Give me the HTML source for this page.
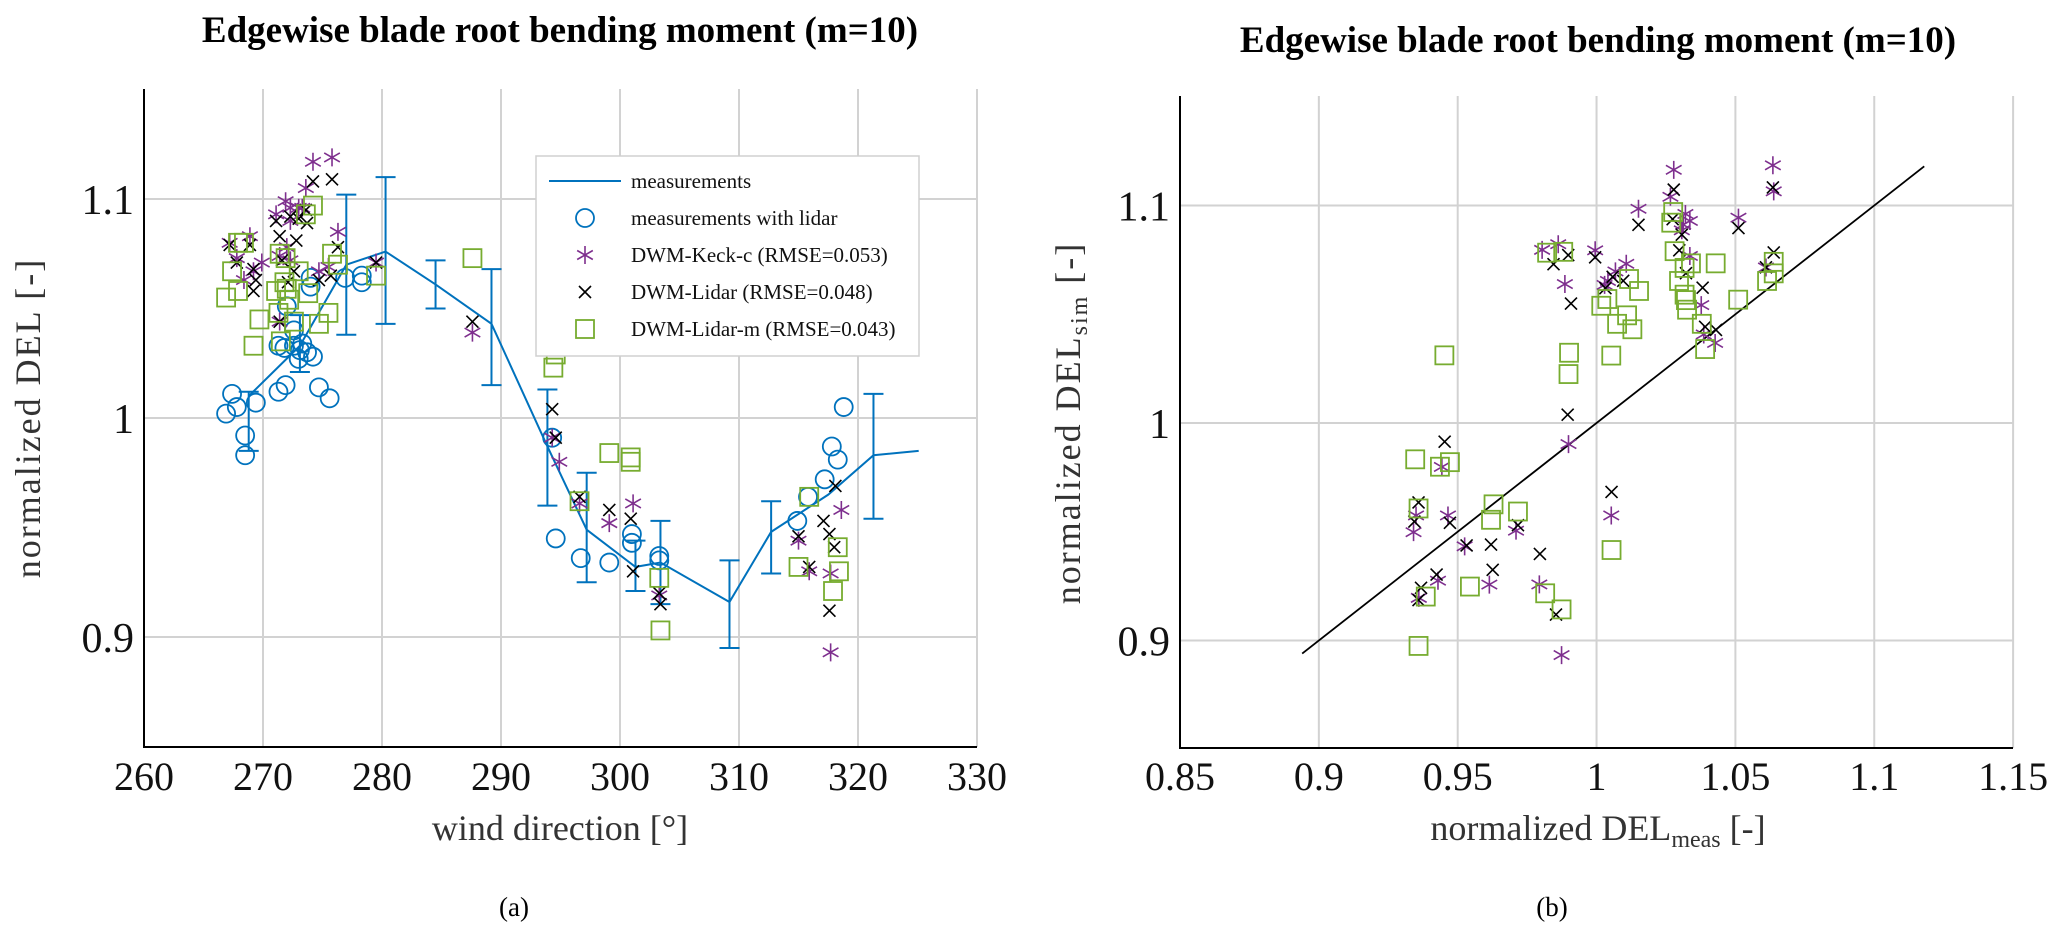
<!DOCTYPE html>
<html><head><meta charset="utf-8"><style>
html,body{margin:0;padding:0;background:#fff;}
svg{display:block;font-family:"Liberation Serif",serif;}
</style></head><body>
<svg id="fig" width="2067" height="942" viewBox="0 0 2067 942" xmlns="http://www.w3.org/2000/svg">
<g id="gL"></g>
<g id="gR"></g>
<text x="560" y="42" text-anchor="middle" font-size="37" font-weight="bold">Edgewise blade root bending moment (m=10)</text>
<text x="1598" y="52" text-anchor="middle" font-size="37" font-weight="bold">Edgewise blade root bending moment (m=10)</text>
<text x="560" y="840" text-anchor="middle" font-size="36" fill="#333">wind direction [°]</text>
<text x="1598" y="840" text-anchor="middle" font-size="36" fill="#333">normalized DEL<tspan font-size="24" dy="7">meas</tspan><tspan dy="-7"> [-]</tspan></text>
<text transform="translate(40,418) rotate(-90)" text-anchor="middle" font-size="36" fill="#333" letter-spacing="2">normalized DEL [-]</text>
<text transform="translate(1080,423) rotate(-90)" text-anchor="middle" font-size="36" fill="#333" letter-spacing="2">normalized DEL<tspan font-size="24" dy="7">sim</tspan><tspan dy="-7"> [-]</tspan></text>
<text x="514" y="916" text-anchor="middle" font-size="27">(a)</text>
<text x="1552" y="916" text-anchor="middle" font-size="27">(b)</text>
</svg>
<script>
// ---- left chart data ----
const lineX = [268.8,273.1,277,280.3,284.5,289.2,293.9,297.2,301.3,303.4,309.2,312.7,317.5,321.3,325.1];
const lineY = [1.010,1.033,1.070,1.076,1.061,1.043,0.987,0.949,0.932,0.934,0.916,0.948,0.965,0.983,0.985];
const errX = [268.8,273.1,277,280.3,284.5,289.2,293.9,297.2,301.3,303.4,309.2,312.7,321.3];
const errLo = [0.985,1.021,1.038,1.043,1.050,1.015,0.960,0.925,0.921,0.915,0.895,0.929,0.954];
const errHi = [1.012,1.047,1.102,1.110,1.072,1.068,1.013,0.975,0.944,0.953,0.935,0.962,1.011];
const circX = [267.4,266.9,267.8,268.5,269.4,268.5,271.3,271.9,274.7,275.6,271.3,271.8,272.6,273.1,273.7,274.2,273,273.3,272.6,276.9,274,274,272,294.6,294.3,296.7,299.1,301,301,303.3,303.3,314.9,315.8,317.2,317.8,318.3,318.8,278.3,278.3];
const circY = [1.011,1.002,1.005,0.992,1.007,0.983,1.012,1.015,1.014,1.009,1.033,1.032,1.033,1.031,1.030,1.028,1.027,1.034,1.040,1.064,1.064,1.060,1.051,0.945,0.991,0.936,0.934,0.947,0.943,0.937,0.935,0.953,0.964,0.972,0.987,0.981,1.005,1.062,1.065];
const keckX = [274.2,275.8,273.6,271.9,271.1,272.3,273,267.2,268.9,267.8,269.9,268.4,269.2,271.4,272.3,272,276.3,274.7,275.5,279.5,271.4,272.3,273.3,287.6,294.3,294.9,296.6,299.1,301.1,303.3,315,315.9,317.7,318.6,317.7];
const keckY = [1.117,1.119,1.105,1.099,1.093,1.096,1.096,1.080,1.083,1.073,1.071,1.063,1.067,1.074,1.072,1.078,1.085,1.067,1.069,1.071,1.044,1.090,1.096,1.039,0.991,0.980,0.961,0.952,0.961,0.919,0.944,0.930,0.929,0.958,0.893];
const lidX = [274.2,275.8,273.6,271.1,272.3,273,273.7,271.4,272.8,267.2,268.9,267.8,269.2,269.4,269.2,271.6,272.6,272.1,276.3,274.7,275.7,279.5,271.4,287.6,294.3,294.6,296.6,299.1,300.9,301.1,303.3,303.4,315,315.9,317.1,317.6,318.1,317.6,318];
const lidY = [1.108,1.109,1.095,1.090,1.092,1.091,1.089,1.083,1.081,1.079,1.079,1.071,1.068,1.063,1.058,1.072,1.067,1.062,1.078,1.063,1.065,1.071,1.044,1.044,1.004,0.991,0.964,0.958,0.954,0.930,0.920,0.915,0.946,0.932,0.953,0.947,0.969,0.912,0.941];
const sqX = [274.2,273.6,268.4,267.9,267.4,267.9,266.9,271.4,271.9,273,271.8,271.1,273.8,272.2,269.7,271.3,272.6,275.5,274.7,269.2,271.5,276.3,275.8,279.5,272,287.6,294.4,294.6,299.1,300.9,300.9,296.6,303.3,303.4,315,315.9,318.3,317.9,318.4];
const sqY = [1.097,1.093,1.080,1.080,1.067,1.058,1.055,1.075,1.073,1.067,1.062,1.058,1.057,1.054,1.045,1.048,1.044,1.048,1.043,1.033,1.035,1.070,1.075,1.065,1.059,1.073,1.023,1.029,0.984,0.982,0.980,0.962,0.927,0.903,0.932,0.964,0.941,0.921,0.930];
// ---- right chart data ----
const rSqX = [0.9452,0.9347,0.9436,0.9472,0.9359,0.9629,0.9717,0.962,0.9385,0.9544,0.9815,0.9874,0.9359,1.0054,0.9901,0.9899,1.0053,0.9822,0.988,1.0017,1.0039,1.0074,1.011,1.0129,1.0153,1.0117,1.0276,1.0269,1.0281,1.0317,1.0297,1.0317,1.0322,1.0326,1.034,1.0429,1.051,1.0379,1.0391,1.0614,1.0638,1.0638];
const rSqY = [1.0311,0.9833,0.9799,0.9820,0.9607,0.9626,0.9593,0.9555,0.9202,0.9248,0.9217,0.9143,0.8975,0.9416,1.0323,1.0225,1.0310,1.0783,1.0787,1.0539,1.0570,1.0456,1.0495,1.0431,1.0607,1.0662,1.0970,1.0921,1.0790,1.0713,1.0653,1.0590,1.0565,1.0521,1.0734,1.0734,1.0567,1.0456,1.0340,1.0653,1.0741,1.0688];
const rKX = [1.0278,1.0266,1.0635,1.0151,1.0511,1.0638,1.032,1.0312,1.0307,1.0336,0.9995,0.9862,0.9804,0.9886,1.0107,1.0068,1.0029,1.0041,1.0377,1.0386,1.0427,1.061,0.9899,0.9443,0.9350,0.9341,0.9465,0.9525,0.9429,0.9614,0.9710,0.9794,0.9360,1.0053,0.9874,1.0336];
const rKY = [1.1164,1.1040,1.1185,1.0985,1.0944,1.1065,1.0961,1.0912,1.0886,1.0768,1.0794,1.0822,1.0796,1.0639,1.0732,1.0697,1.0635,1.0653,1.0542,1.0407,1.0368,1.0715,0.9903,0.9798,0.9575,0.9498,0.9575,0.9433,0.9275,0.9257,0.9505,0.9258,0.9196,0.9575,0.8933,1.0929];
const rLX = [1.0278,1.0635,1.0151,1.0511,1.0298,1.0274,1.0307,1.0638,1.0322,1.0382,1.043,0.9898,0.9845,0.9995,0.9908,1.0096,1.0058,1.0032,1.0610,0.9896,0.9453,0.9359,0.9344,0.9472,0.9532,0.9620,0.9717,0.9626,0.9424,0.9796,0.9359,0.9368,0.9854,1.0054,1.0391];
const rLY = [1.1073,1.1083,1.0911,1.0896,1.0794,1.0937,1.0866,1.0784,1.0689,1.0622,1.0428,1.0772,1.0730,1.0762,1.0549,1.0654,1.0672,1.0620,1.0716,1.0038,0.9914,0.9635,0.9547,0.9541,0.9437,0.9441,0.9530,0.9325,0.9303,0.9398,0.9186,0.9242,0.9119,0.9683,1.0442];
const refLine = [0.894, 1.118];
const xTicksL = [260,270,280,290,300,310,320,330];
const yTicks = [0.9,1,1.1];
const xTicksR = [0.85,0.9,0.95,1,1.05,1.1,1.15];

const NS = "http://www.w3.org/2000/svg";
const xL = v => 144 + (v - 260) * 11.9;
const yL = v => 418 - (v - 1) * 2190;
const xR = v => 1180 + (v - 0.85) * 2777;
const yR = v => 423 - (v - 1) * 2175;
function mk(tag, attrs, parent){const e=document.createElementNS(NS,tag);for(const k in attrs)e.setAttribute(k,attrs[k]);parent.appendChild(e);return e;}

const BLUE="#0072BD", PUR="#7E2F8E", GRN="#77AC30";

function axes(g, xs, ys, xf, yf, x0, x1, y0, y1, pre){
  xs.forEach((t,i)=>{
    const gx = mk('line',{x1:xf(t),x2:xf(t),y1:y0,y2:y1,stroke:'#d2d2d2','stroke-width':2},g);
    
    
    const tl = mk('text',{x:xf(t),y:790,'text-anchor':'middle','font-size':40,fill:'#111'},g);
    tl.textContent = String(t);
    
    
  });
  ys.forEach(t=>{
    const gy = mk('line',{x1:x0,x2:x1,y1:yf(t),y2:yf(t),stroke:'#d2d2d2','stroke-width':2},g);
    
    
    const tl = mk('text',{x:x0-10,y:yf(t)+15,'text-anchor':'end','font-size':42,fill:'#111'},g);
    tl.textContent = String(t);
    
    
  });
  const ax = mk('path',{d:`M${x0},${y0}V${y1}H${x1}`,fill:'none',stroke:'#000','stroke-width':2},g);
  
  
}
function circle(g,x,y){return mk('circle',{cx:x,cy:y,r:9,fill:'none',stroke:BLUE,'stroke-width':1.8},g);}
function square(g,x,y){return mk('rect',{x:x-9,y:y-9,width:18,height:18,fill:'none',stroke:GRN,'stroke-width':1.8},g);}
function cross(g,x,y){return mk('path',{d:`M${x-6},${y-6}L${x+6},${y+6}M${x-6},${y+6}L${x+6},${y-6}`,stroke:'#000','stroke-width':1.6,fill:'none'},g);}
function star(g,x,y){const s=9;return mk('path',{d:`M${x},${y-s}V${y+s}M${x-s*.87},${y-s/2}L${x+s*.87},${y+s/2}M${x-s*.87},${y+s/2}L${x+s*.87},${y-s/2}`,stroke:PUR,'stroke-width':1.6,fill:'none'},g);}

// ---- left chart ----
const gL = document.getElementById('gL');
axes(gL, xTicksL, yTicks, xL, yL, 144, 977, 89, 747, 'left-');
let d = lineX.map((v,i)=>(i?'L':'M')+xL(v)+','+yL(lineY[i])).join('');
const ln = mk('path',{d:d,fill:'none',stroke:BLUE,'stroke-width':2},gL);


errX.forEach((v,i)=>{
  const x=xL(v), a=yL(errLo[i]), b=yL(errHi[i]);
  const e = mk('path',{d:`M${x},${a}V${b}M${x-10},${a}H${x+10}M${x-10},${b}H${x+10}`,stroke:BLUE,'stroke-width':2,fill:'none'},gL);
  
  
});
circX.forEach((v,i)=>{const e=circle(gL,xL(v),yL(circY[i]));
  
  });
keckX.forEach((v,i)=>{const e=star(gL,xL(v),yL(keckY[i]));
  
  });
lidX.forEach((v,i)=>{const e=cross(gL,xL(v),yL(lidY[i]));
  
  });
sqX.forEach((v,i)=>{const e=square(gL,xL(v),yL(sqY[i]));
  
  });

// legend
const lg = mk('g',{},gL);


mk('rect',{x:536,y:156,width:383,height:200,fill:'#fff',stroke:'#d0d0d0','stroke-width':1.5},lg);
const labels = ['measurements','measurements with lidar','DWM-Keck-c (RMSE=0.053)','DWM-Lidar (RMSE=0.048)','DWM-Lidar-m (RMSE=0.043)'];
const ly = [181,218,255,292,329];
mk('line',{x1:549,x2:621,y1:ly[0],y2:ly[0],stroke:BLUE,'stroke-width':2},lg);
circle(lg,585,ly[1]); star(lg,585,ly[2]); cross(lg,585,ly[3]); square(lg,585,ly[4]);
labels.forEach((t,i)=>{
  const e = mk('text',{x:631,y:ly[i]+7,'font-size':21,fill:'#111'},lg);
  e.textContent = t;
  
  
});

// ---- right chart ----
const gR = document.getElementById('gR');
axes(gR, xTicksR, yTicks, xR, yR, 1180, 2013, 96, 748, 'right-');
const rl = mk('line',{x1:xR(refLine[0]),y1:yR(refLine[0]),x2:xR(refLine[1]),y2:yR(refLine[1]),stroke:'#000','stroke-width':1.8},gR);


rKX.forEach((v,i)=>{const e=star(gR,xR(v),yR(rKY[i]));
  
  });
rLX.forEach((v,i)=>{const e=cross(gR,xR(v),yR(rLY[i]));
  
  });
rSqX.forEach((v,i)=>{const e=square(gR,xR(v),yR(rSqY[i]));
  
  });
</script>
</body></html>
